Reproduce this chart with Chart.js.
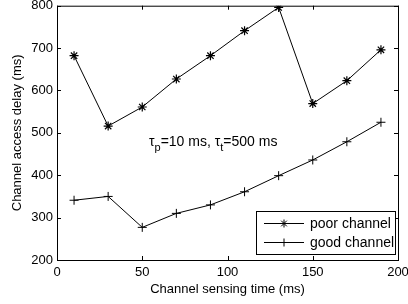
<!DOCTYPE html>
<html>
<head>
<meta charset="utf-8">
<script src="https://cdn.jsdelivr.net/npm/chart.js@4.4.1/dist/chart.umd.min.js"></script>
<style>
  html, body { margin: 0; padding: 0; background: #fff; }
  #wrap { width: 408px; height: 304px; }
</style>
</head>
<body>
<div id="wrap"><canvas id="chart" width="408" height="304"></canvas></div>
<script>
// sensing time (ms)
const sensingTime = [10, 30, 50, 70, 90, 110, 130, 150, 170, 190];
const poorChannel = [682, 516, 561, 627, 682, 741, 796, 569, 623, 696];
const goodChannel = [341, 350, 277, 310, 330, 361, 399, 436, 479, 525];
const xTicks = [0, 50, 100, 150, 200];
const yTicks = [200, 300, 400, 500, 600, 700, 800];

const FONT = 'Liberation Sans, Arial, Helvetica, sans-serif';
const FS = 13;

// matlab 스타일 박스 + 안쪽 눈금 + 범례 + 주석
const boxPlugin = {
    id: 'boxPlugin',
    afterDraw(chart) {
        const ctx = chart.ctx;
        const a = chart.chartArea;
        const xs = chart.scales.x;
        const ys = chart.scales.y;
        ctx.save();
        ctx.strokeStyle = '#000';
        ctx.lineWidth = 1;
        ctx.strokeRect(a.left + 0.5, a.top + 0.5, a.right - a.left, a.bottom - a.top);

        ctx.beginPath();
        xTicks.forEach(v => {
            const px = Math.round(xs.getPixelForValue(v)) + 0.5;
            ctx.moveTo(px, a.bottom); ctx.lineTo(px, a.bottom - 4);
            ctx.moveTo(px, a.top); ctx.lineTo(px, a.top + 4);
        });
        yTicks.forEach(v => {
            const py = Math.round(ys.getPixelForValue(v)) + 0.5;
            ctx.moveTo(a.left, py); ctx.lineTo(a.left + 4, py);
            ctx.moveTo(a.right, py); ctx.lineTo(a.right - 4, py);
        });
        ctx.stroke();

        // 주석
        ctx.fillStyle = '#000';
        ctx.textBaseline = 'alphabetic';
        ctx.textAlign = 'left';
        let tx = 149, ty = 146;
        const parts = [['τ', 0], ['p', 1], ['=10 ms, τ', 0], ['t', 1], ['=500 ms', 0]];
        parts.forEach(([s, sub]) => {
            ctx.font = (sub ? 11 : 14) + 'px ' + FONT;
            ctx.fillText(s, tx, ty + (sub ? 5 : 0));
            tx += ctx.measureText(s).width;
        });

        // 범례
        const lx = 256, ly = 211, lw = 139, lh = 43;
        ctx.fillStyle = '#fff';
        ctx.fillRect(lx, ly, lw, lh);
        ctx.strokeRect(lx + 0.5, ly + 0.5, lw, lh);
        const rows = [
            { label: 'poor channel', y: 223, style: 'star' },
            { label: 'good channel', y: 242, style: 'cross' }
        ];
        ctx.font = '14px ' + FONT;
        ctx.textBaseline = 'middle';
        rows.forEach(r => {
            ctx.beginPath();
            ctx.moveTo(264, r.y + 0.5); ctx.lineTo(304, r.y + 0.5);
            ctx.stroke();
            Chart.helpers.drawPoint(ctx, { pointStyle: r.style, radius: 4, borderWidth: 1 }, 284, r.y + 0.5);
            ctx.fillStyle = '#000';
            ctx.fillText(r.label, 310, r.y + 1);
        });
        ctx.restore();
    }
};

new Chart(document.getElementById('chart'), {
    type: 'line',
    data: {
        datasets: [
            {
                label: 'poor channel',
                data: sensingTime.map((t, i) => ({ x: t, y: poorChannel[i] })),
                borderColor: '#000',
                borderWidth: 1,
                pointStyle: 'star',
                pointRadius: 4.5,
                pointBorderColor: '#000',
                pointBorderWidth: 1.2,
                fill: false,
                tension: 0
            },
            {
                label: 'good channel',
                data: sensingTime.map((t, i) => ({ x: t, y: goodChannel[i] })),
                borderColor: '#000',
                borderWidth: 1,
                pointStyle: 'cross',
                pointRadius: 4.5,
                pointBorderColor: '#000',
                pointBorderWidth: 1,
                fill: false,
                tension: 0
            }
        ]
    },
    options: {
        responsive: false,
        animation: false,
        layout: { padding: { top: 4, right: 10, left: 0, bottom: 0 } },
        plugins: { legend: { display: false }, tooltip: { enabled: false } },
        scales: {
            x: {
                type: 'linear',
                min: 0, max: 200,
                afterBuildTicks: s => { s.ticks = xTicks.map(v => ({ value: v })); },
                afterFit: s => { s.height = 44; s.paddingLeft = 0; s.paddingRight = 0; },
                grid: { display: false, drawTicks: false },
                border: { display: false },
                ticks: { color: '#000', font: { family: FONT, size: FS }, padding: 5, maxRotation: 0 },
                title: { display: true, text: 'Channel sensing time (ms)', color: '#000', font: { family: FONT, size: FS }, padding: { top: 0, bottom: 7 } }
            },
            y: {
                type: 'linear',
                min: 200, max: 800,
                afterBuildTicks: s => { s.ticks = yTicks.map(v => ({ value: v })); },
                afterFit: s => { s.width = 57; s.paddingTop = 0; s.paddingBottom = 0; },
                grid: { display: false, drawTicks: false },
                border: { display: false },
                ticks: { color: '#000', font: { family: FONT, size: FS }, padding: 4 },
                title: { display: true, text: 'Channel access delay (ms)', color: '#000', font: { family: FONT, size: FS }, padding: { top: 10, bottom: 0 } }
            }
        }
    },
    plugins: [boxPlugin]
});
</script>
</body>
</html>
